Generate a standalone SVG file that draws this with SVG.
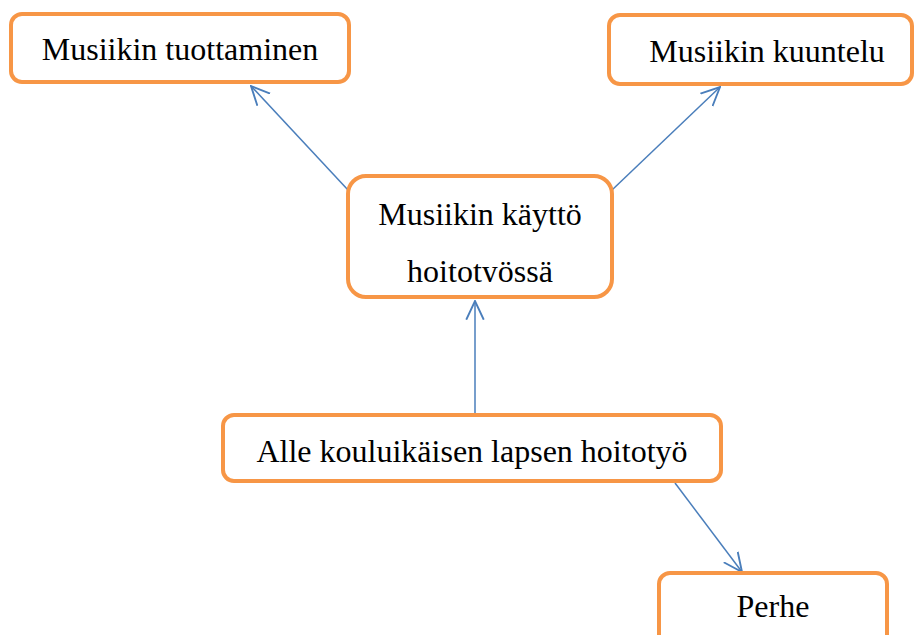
<svg xmlns="http://www.w3.org/2000/svg" width="915" height="635" viewBox="0 0 915 635">
<style>
.box{fill:#fff;stroke:#F79646;stroke-width:4}
.lbl{font-family:"Liberation Serif","Times New Roman",serif;font-size:32px;fill:#000;text-anchor:middle}
.conn{stroke:#4A7EBB;stroke-width:1.5;fill:none}
</style>
<defs>
<marker id="arr" markerUnits="userSpaceOnUse" markerWidth="20" markerHeight="20" refX="15" refY="7" orient="auto" viewBox="0 0 16 14">
<path d="M0,0 L15,7 L0,14" fill="none" stroke="#4A7EBB" stroke-width="1.5"/>
</marker>
<clipPath id="clip3"><rect x="340" y="170" width="280" height="112"/></clipPath>
</defs>
<g id="connectors">
<line class="conn" x1="348" y1="190" x2="251" y2="86" marker-end="url(#arr)"/>
<line class="conn" x1="612" y1="190" x2="720" y2="87" marker-end="url(#arr)"/>
<line class="conn" x1="475" y1="415" x2="475" y2="301" marker-end="url(#arr)"/>
<line class="conn" x1="675" y1="483" x2="742" y2="572" marker-end="url(#arr)"/>
</g>
<g id="n1">
<rect class="box" x="11" y="14" width="338" height="68" rx="11"/>
<text class="lbl" x="180" y="60">Musiikin tuottaminen</text>
</g>
<g id="n2">
<rect class="box" x="609" y="15" width="303" height="69" rx="11"/>
<text class="lbl" x="767" y="62">Musiikin kuuntelu</text>
</g>
<g id="n3">
<rect class="box" x="348" y="176" width="264" height="121" rx="18"/>
<text class="lbl" x="480" y="225">Musiikin käyttö</text>
<text class="lbl" x="480" y="282" clip-path="url(#clip3)">hoitotyössä</text>
</g>
<g id="n4">
<rect class="box" x="223" y="415" width="498" height="66" rx="11"/>
<text class="lbl" x="472" y="462">Alle kouluikäisen lapsen hoitotyö</text>
</g>
<g id="n5">
<rect class="box" x="659" y="573" width="228" height="80" rx="11"/>
<text class="lbl" x="773" y="617">Perhe</text>
</g>
</svg>
